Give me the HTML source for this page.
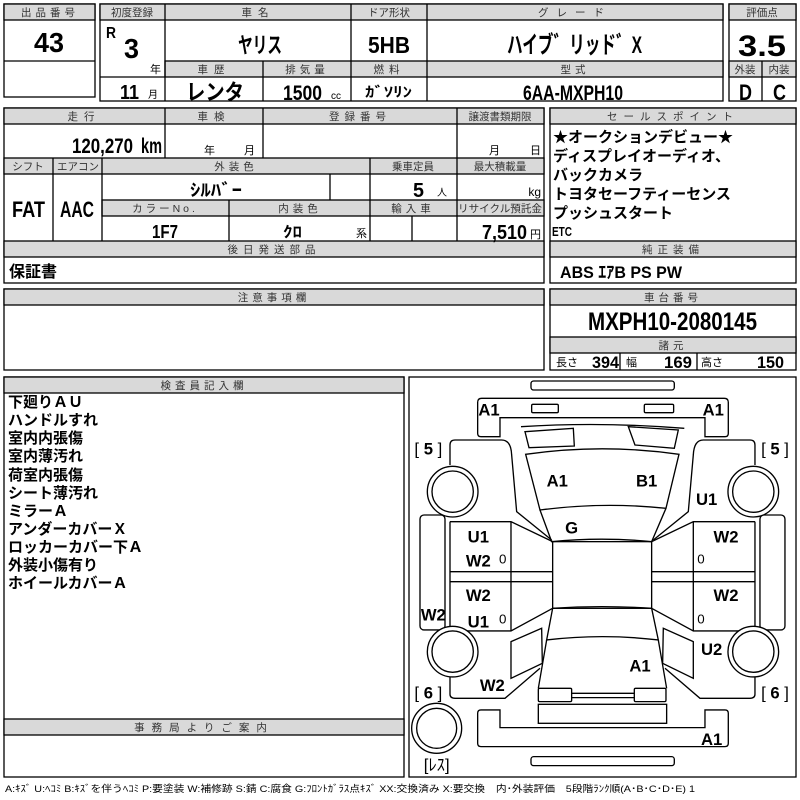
<!DOCTYPE html>
<html><head><meta charset="utf-8"><style>
html,body{margin:0;padding:0;background:#fff;width:800px;height:800px;overflow:hidden}
svg text{font-family:"Liberation Sans","Noto Sans CJK JP",sans-serif}
.h{fill:#d9d9d9;stroke:#000;stroke-width:1.3}
.b{fill:none;stroke:#000;stroke-width:1.3}
.l{stroke:#000;stroke-width:1.3}
.ht{font-size:10.5px;fill:#333;text-anchor:middle;letter-spacing:1px}
.big{font-weight:bold;fill:#000}
.jp{font-weight:bold;fill:#000}
.d{fill:none;stroke:#000;stroke-width:4}
.dl{font-weight:bold;font-size:50px;fill:#000;text-anchor:middle}
</style></head><body>
<svg width="800" height="800" viewBox="0 0 800 800" xmlns="http://www.w3.org/2000/svg">
<rect x="4" y="4" width="91" height="93" class="b"/>
<rect x="4" y="4" width="91" height="16" class="h"/>
<line x1="4" y1="61" x2="95" y2="61" class="l"/>
<text x="50" y="16" class="ht" style="letter-spacing:4px">出品番号</text>
<text x="34" y="52" class="big" font-size="28" textLength="30" lengthAdjust="spacingAndGlyphs">43</text>

<rect x="100" y="4" width="623" height="97" class="b"/>
<rect x="100" y="4" width="623" height="16" class="h"/>
<rect x="165" y="61" width="558" height="16" class="h"/>
<line x1="100" y1="77" x2="165" y2="77" class="l"/>
<line x1="165" y1="4" x2="165" y2="101" class="l"/>
<line x1="351" y1="4" x2="351" y2="101" class="l"/>
<line x1="427" y1="4" x2="427" y2="101" class="l"/>
<line x1="263" y1="61" x2="263" y2="101" class="l"/>
<text x="132" y="16" class="ht" style="letter-spacing:0">初度登録</text>
<text x="258" y="16" class="ht" style="letter-spacing:6px">車名</text>
<text x="389" y="16" class="ht" style="letter-spacing:0">ドア形状</text>
<text x="575" y="16" class="ht" style="letter-spacing:8px">グレード</text>
<text x="214" y="73" class="ht" style="letter-spacing:6px">車歴</text>
<text x="307" y="73" class="ht" style="letter-spacing:4px">排気量</text>
<text x="389" y="73" class="ht" style="letter-spacing:5px">燃料</text>
<text x="575" y="73" class="ht" style="letter-spacing:4px">型式</text>
<text x="106" y="38" class="big" font-size="16" textLength="10" lengthAdjust="spacingAndGlyphs">R</text>
<text x="124" y="58" class="big" font-size="28" textLength="15" lengthAdjust="spacingAndGlyphs">3</text>
<text x="150" y="73" font-size="11">年</text>
<text x="120" y="99" class="big" font-size="20" textLength="19" lengthAdjust="spacingAndGlyphs">11</text>
<text x="148" y="98" font-size="10">月</text>
<text x="238" y="53" class="jp" font-size="22" textLength="44" lengthAdjust="spacingAndGlyphs">ヤリス</text>
<text x="368" y="53" class="big" font-size="23" textLength="42" lengthAdjust="spacingAndGlyphs">5HB</text>
<text x="507" y="53" class="jp" font-size="24" textLength="135" lengthAdjust="spacingAndGlyphs">ハイブ゛リッド゛X</text>
<text x="186" y="100" class="jp" font-size="22" textLength="58" lengthAdjust="spacingAndGlyphs">レンタ</text>
<text x="283" y="100" class="big" font-size="21" textLength="39" lengthAdjust="spacingAndGlyphs">1500</text>
<text x="331" y="99" font-size="10">cc</text>
<text x="365" y="97" class="jp" font-size="14" textLength="47" lengthAdjust="spacingAndGlyphs">ｶﾞｿﾘﾝ</text>
<text x="523" y="100" class="big" font-size="21" textLength="100" lengthAdjust="spacingAndGlyphs">6AA-MXPH10</text>

<rect x="729" y="4" width="67" height="97" class="b"/>
<rect x="729" y="4" width="67" height="16" class="h"/>
<rect x="729" y="61" width="67" height="16" class="h"/>
<line x1="762" y1="61" x2="762" y2="101" class="l"/>
<text x="762" y="16" class="ht" style="letter-spacing:0">評価点</text>
<text x="738" y="56" class="big" font-size="30" textLength="48" lengthAdjust="spacingAndGlyphs">3.5</text>
<text x="745" y="73" class="ht" style="letter-spacing:0">外装</text>
<text x="779" y="73" class="ht" style="letter-spacing:0">内装</text>
<text x="739" y="100" class="big" font-size="22" textLength="13" lengthAdjust="spacingAndGlyphs">D</text>
<text x="773" y="100" class="big" font-size="22" textLength="13" lengthAdjust="spacingAndGlyphs">C</text>

<rect x="4" y="108" width="540" height="175" class="b"/>
<rect x="4" y="108" width="540" height="16" class="h"/>
<rect x="4" y="158" width="540" height="16" class="h"/>
<rect x="102" y="200" width="442" height="16" class="h"/>
<rect x="4" y="241" width="540" height="16" class="h"/>
<line x1="165" y1="108" x2="165" y2="158" class="l"/>
<line x1="263" y1="108" x2="263" y2="158" class="l"/>
<line x1="457" y1="108" x2="457" y2="241" class="l"/>
<line x1="53" y1="158" x2="53" y2="241" class="l"/>
<line x1="102" y1="158" x2="102" y2="241" class="l"/>
<line x1="370" y1="158" x2="370" y2="241" class="l"/>
<line x1="330" y1="174" x2="330" y2="200" class="l"/>
<line x1="229" y1="200" x2="229" y2="241" class="l"/>
<line x1="412" y1="216" x2="412" y2="241" class="l"/>
<text x="84" y="120" class="ht" style="letter-spacing:6px">走行</text>
<text x="214" y="120" class="ht" style="letter-spacing:6px">車検</text>
<text x="360" y="120" class="ht" style="letter-spacing:5px">登録番号</text>
<text x="500" y="120" class="ht" style="letter-spacing:0">譲渡書類期限</text>
<text x="72" y="153" class="big" font-size="21" textLength="61" lengthAdjust="spacingAndGlyphs">120,270</text>
<text x="141" y="153" class="big" font-size="21" textLength="21" lengthAdjust="spacingAndGlyphs">km</text>
<text x="204" y="154" font-size="11">年</text>
<text x="244" y="154" font-size="11">月</text>
<text x="489" y="154" font-size="11">月</text>
<text x="530" y="154" font-size="11">日</text>
<text x="28" y="170" class="ht" style="letter-spacing:0">シフト</text>
<text x="78" y="170" class="ht" style="letter-spacing:0">エアコン</text>
<text x="236" y="170" class="ht" style="letter-spacing:4px">外装色</text>
<text x="413" y="170" class="ht" style="letter-spacing:0">乗車定員</text>
<text x="500" y="170" class="ht" style="letter-spacing:0">最大積載量</text>
<text x="190" y="196" class="jp" font-size="17" textLength="52" lengthAdjust="spacingAndGlyphs">ｼﾙﾊﾞｰ</text>
<text x="413" y="197" class="big" font-size="20" textLength="11" lengthAdjust="spacingAndGlyphs">5</text>
<text x="437" y="196" font-size="10">人</text>
<text x="541" y="196" font-size="12" style="text-anchor:end">kg</text>
<text x="165" y="212" class="ht" style="letter-spacing:3px">カラーNo.</text>
<text x="300" y="212" class="ht" style="letter-spacing:4px">内装色</text>
<text x="413" y="212" class="ht" style="letter-spacing:4px">輸入車</text>
<text x="500" y="212" class="ht" style="letter-spacing:0" textLength="84" lengthAdjust="spacingAndGlyphs">リサイクル預託金</text>
<text x="12" y="217" class="big" font-size="22" textLength="33" lengthAdjust="spacingAndGlyphs">FAT</text>
<text x="60" y="217" class="big" font-size="22" textLength="34" lengthAdjust="spacingAndGlyphs">AAC</text>
<text x="152" y="238" class="big" font-size="18" textLength="26" lengthAdjust="spacingAndGlyphs">1F7</text>
<text x="283" y="237" class="jp" font-size="15" textLength="19" lengthAdjust="spacingAndGlyphs">ｸﾛ</text>
<text x="356" y="237" font-size="11">系</text>
<text x="482" y="239" class="big" font-size="20" textLength="45" lengthAdjust="spacingAndGlyphs">7,510</text>
<text x="530" y="238" font-size="11">円</text>
<text x="274" y="253" class="ht" style="letter-spacing:5px">後日発送部品</text>
<text x="9" y="277" class="jp" font-size="16">保証書</text>

<rect x="550" y="108" width="246" height="175" class="b"/>
<rect x="550" y="108" width="246" height="16" class="h"/>
<rect x="550" y="241" width="246" height="16" class="h"/>
<text x="673" y="120" class="ht" style="letter-spacing:6px">セールスポイント</text>
<text x="553" y="142" class="jp" font-size="15">★オークションデビュー★</text>
<text x="553" y="161" class="jp" font-size="15">ディスプレイオーディオ、</text>
<text x="553" y="180" class="jp" font-size="15">バックカメラ</text>
<text x="553" y="199" class="jp" font-size="15">トヨタセーフティーセンス</text>
<text x="553" y="218" class="jp" font-size="15">プッシュスタート</text>
<text x="552" y="236" class="big" font-size="13" textLength="20" lengthAdjust="spacingAndGlyphs">ETC</text>
<text x="673" y="253" class="ht" style="letter-spacing:5px">純正装備</text>
<text x="560" y="278" class="jp" font-size="17" textLength="122" lengthAdjust="spacingAndGlyphs">ABS ｴｱB PS PW</text>

<rect x="4" y="289" width="540" height="81" class="b"/>
<rect x="4" y="289" width="540" height="16" class="h"/>
<text x="274" y="301" class="ht" style="letter-spacing:4px">注意事項欄</text>
<rect x="550" y="289" width="246" height="81" class="b"/>
<rect x="550" y="289" width="246" height="16" class="h"/>
<rect x="550" y="337" width="246" height="16" class="h"/>
<line x1="620" y1="353" x2="620" y2="370" class="l"/>
<line x1="697" y1="353" x2="697" y2="370" class="l"/>
<text x="673" y="301" class="ht" style="letter-spacing:4px">車台番号</text>
<text x="588" y="330" class="big" font-size="25" textLength="169" lengthAdjust="spacingAndGlyphs">MXPH10-2080145</text>
<text x="673" y="349" class="ht" style="letter-spacing:4px">諸元</text>
<text x="556" y="366" font-size="11">長さ</text>
<text x="592" y="368" class="big" font-size="17" textLength="27" lengthAdjust="spacingAndGlyphs">394</text>
<text x="626" y="366" font-size="11">幅</text>
<text x="664" y="368" class="big" font-size="17" textLength="28" lengthAdjust="spacingAndGlyphs">169</text>
<text x="701" y="366" font-size="11">高さ</text>
<text x="757" y="368" class="big" font-size="17" textLength="27" lengthAdjust="spacingAndGlyphs">150</text>

<rect x="4" y="377" width="400" height="400" class="b"/>
<rect x="4" y="377" width="400" height="16" class="h"/>
<rect x="4" y="719" width="400" height="16" class="h"/>
<text x="204" y="389" class="ht" style="letter-spacing:4px">検査員記入欄</text>
<text x="204" y="731" class="ht" style="letter-spacing:7px">事務局よりご案内</text>
<g class="jp" font-size="15">
<text x="8" y="407">下廻りＡＵ</text>
<text x="8" y="425">ハンドルすれ</text>
<text x="8" y="443">室内内張傷</text>
<text x="8" y="461">室内薄汚れ</text>
<text x="8" y="480">荷室内張傷</text>
<text x="8" y="498">シート薄汚れ</text>
<text x="8" y="516">ミラーＡ</text>
<text x="8" y="534">アンダーカバーＸ</text>
<text x="8" y="552">ロッカーカバー下Ａ</text>
<text x="8" y="570">外装小傷有り</text>
<text x="8" y="588">ホイールカバーＡ</text>
</g>

<rect x="409" y="377" width="387" height="400" class="b"/>
<g transform="translate(405,375) scale(0.3333)">
<rect x="378" y="18" width="430" height="27" rx="8" class="d"/>
<path d="M230,70 H958 Q970,70 970,82 V175 Q970,185 960,185 H900 V128 H285 V185 H228 Q218,185 218,175 V82 Q218,70 230,70 Z" class="d"/>
<rect x="380" y="88" width="80" height="25" rx="4" class="d"/>
<rect x="718" y="88" width="88" height="25" rx="4" class="d"/>
<path d="M348,155 Q590,140 838,160" class="d"/>
<path d="M360,170 L505,160 L508,213 L372,218 Z" class="d"/>
<path d="M670,155 L820,165 L808,220 L690,210 Z" class="d"/>
<path d="M362,238 Q592,205 822,238 L783,400 Q594,380 405,405 Z" class="d"/>
<path d="M405,405 L440,500 Q590,485 740,500 L783,400" class="d"/>
<rect x="443" y="500" width="297" height="200" class="d"/>
<path d="M443,700 Q590,690 740,700 L760,795 Q592,775 425,795 Z" class="d"/>
<path d="M425,795 L400,940 M760,795 L785,940" class="d"/>
<rect x="400" y="940" width="100" height="40" rx="4" class="d"/>
<rect x="688" y="940" width="95" height="40" rx="4" class="d"/>
<path d="M500,955 H688 M500,968 H688" class="d"/>
<rect x="400" y="988" width="385" height="57" class="d"/>
<path d="M228,1005 H285 V1058 H900 V1005 H960 Q970,1005 970,1015 V1105 Q970,1115 960,1115 H228 Q218,1115 218,1105 V1015 Q218,1005 228,1005 Z" class="d"/>
<rect x="378" y="1145" width="430" height="27" rx="8" class="d"/>
<path d="M135,270 V210 Q135,195 150,195 H290 Q318,195 320,240 L335,410 L440,495" class="d"/>
<path d="M135,440 H318 L443,500 M135,590 H443 M135,620 H443 M135,768 H318 L443,700 M318,440 V768 M135,440 V768" class="d"/>
<path d="M318,800 L410,760 L412,865 L318,910 Z" class="d"/>
<path d="M135,890 V958 Q135,970 150,970 H300 L405,880" class="d"/>
<rect x="45" y="420" width="75" height="345" rx="12" class="d"/>
<path d="M1050,270 V210 Q1050,195 1035,195 H895 Q867,195 865,240 L850,410 L745,495" class="d"/>
<path d="M1050,440 H865 L740,500 M1050,590 H740 M1050,620 H740 M1050,768 H865 L740,700 M865,440 V768 M1050,440 V768" class="d"/>
<path d="M865,800 L775,760 L773,865 L865,910 Z" class="d"/>
<path d="M1050,890 V958 Q1050,970 1035,970 H885 L780,880" class="d"/>
<rect x="1065" y="420" width="75" height="345" rx="12" class="d"/>
<circle cx="143" cy="350" r="76" class="d" style="fill:#fff"/><circle cx="143" cy="350" r="62" class="d"/>
<circle cx="143" cy="830" r="76" class="d" style="fill:#fff"/><circle cx="143" cy="830" r="62" class="d"/>
<circle cx="1045" cy="350" r="76" class="d" style="fill:#fff"/><circle cx="1045" cy="350" r="62" class="d"/>
<circle cx="1045" cy="830" r="76" class="d" style="fill:#fff"/><circle cx="1045" cy="830" r="62" class="d"/>
<circle cx="95" cy="1060" r="75" class="d"/><circle cx="95" cy="1060" r="60" class="d"/>
<text x="252" y="122" class="dl">A1</text>
<text x="925" y="122" class="dl">A1</text>
<text x="70" y="238" class="dl" style="font-weight:normal">[ <tspan style="font-weight:bold">5</tspan> ]</text>
<text x="1110" y="238" class="dl" style="font-weight:normal">[ <tspan style="font-weight:bold">5</tspan> ]</text>
<text x="457" y="335" class="dl">A1</text>
<text x="725" y="335" class="dl">B1</text>
<text x="905" y="390" class="dl">U1</text>
<text x="500" y="475" class="dl">G</text>
<text x="220" y="502" class="dl">U1</text>
<text x="220" y="575" class="dl">W2</text>
<text x="293" y="565" class="dl" style="font-size:40px;font-weight:normal">0</text>
<text x="963" y="502" class="dl">W2</text>
<text x="888" y="565" class="dl" style="font-size:40px;font-weight:normal">0</text>
<text x="220" y="678" class="dl">W2</text>
<text x="220" y="757" class="dl">U1</text>
<text x="293" y="745" class="dl" style="font-size:40px;font-weight:normal">0</text>
<text x="85" y="737" class="dl">W2</text>
<text x="963" y="678" class="dl">W2</text>
<text x="888" y="745" class="dl" style="font-size:40px;font-weight:normal">0</text>
<text x="920" y="840" class="dl">U2</text>
<text x="705" y="890" class="dl">A1</text>
<text x="262" y="948" class="dl">W2</text>
<text x="70" y="970" class="dl" style="font-weight:normal">[ <tspan style="font-weight:bold">6</tspan> ]</text>
<text x="1110" y="970" class="dl" style="font-weight:normal">[ <tspan style="font-weight:bold">6</tspan> ]</text>
<text x="920" y="1110" class="dl">A1</text>
<text x="95" y="1187" class="dl" style="font-weight:normal">[ﾚｽ]</text>
</g>
<text x="5" y="792" font-size="9.5" textLength="690" lengthAdjust="spacingAndGlyphs">A:ｷｽﾞ U:ﾍｺﾐ B:ｷｽﾞを伴うﾍｺﾐ P:要塗装 W:補修跡 S:錆 C:腐食 G:ﾌﾛﾝﾄｶﾞﾗｽ点ｷｽﾞ XX:交換済み X:要交換　内･外装評価　5段階ﾗﾝｸ順(A･B･C･D･E) 1</text>
</svg>
</body></html>
